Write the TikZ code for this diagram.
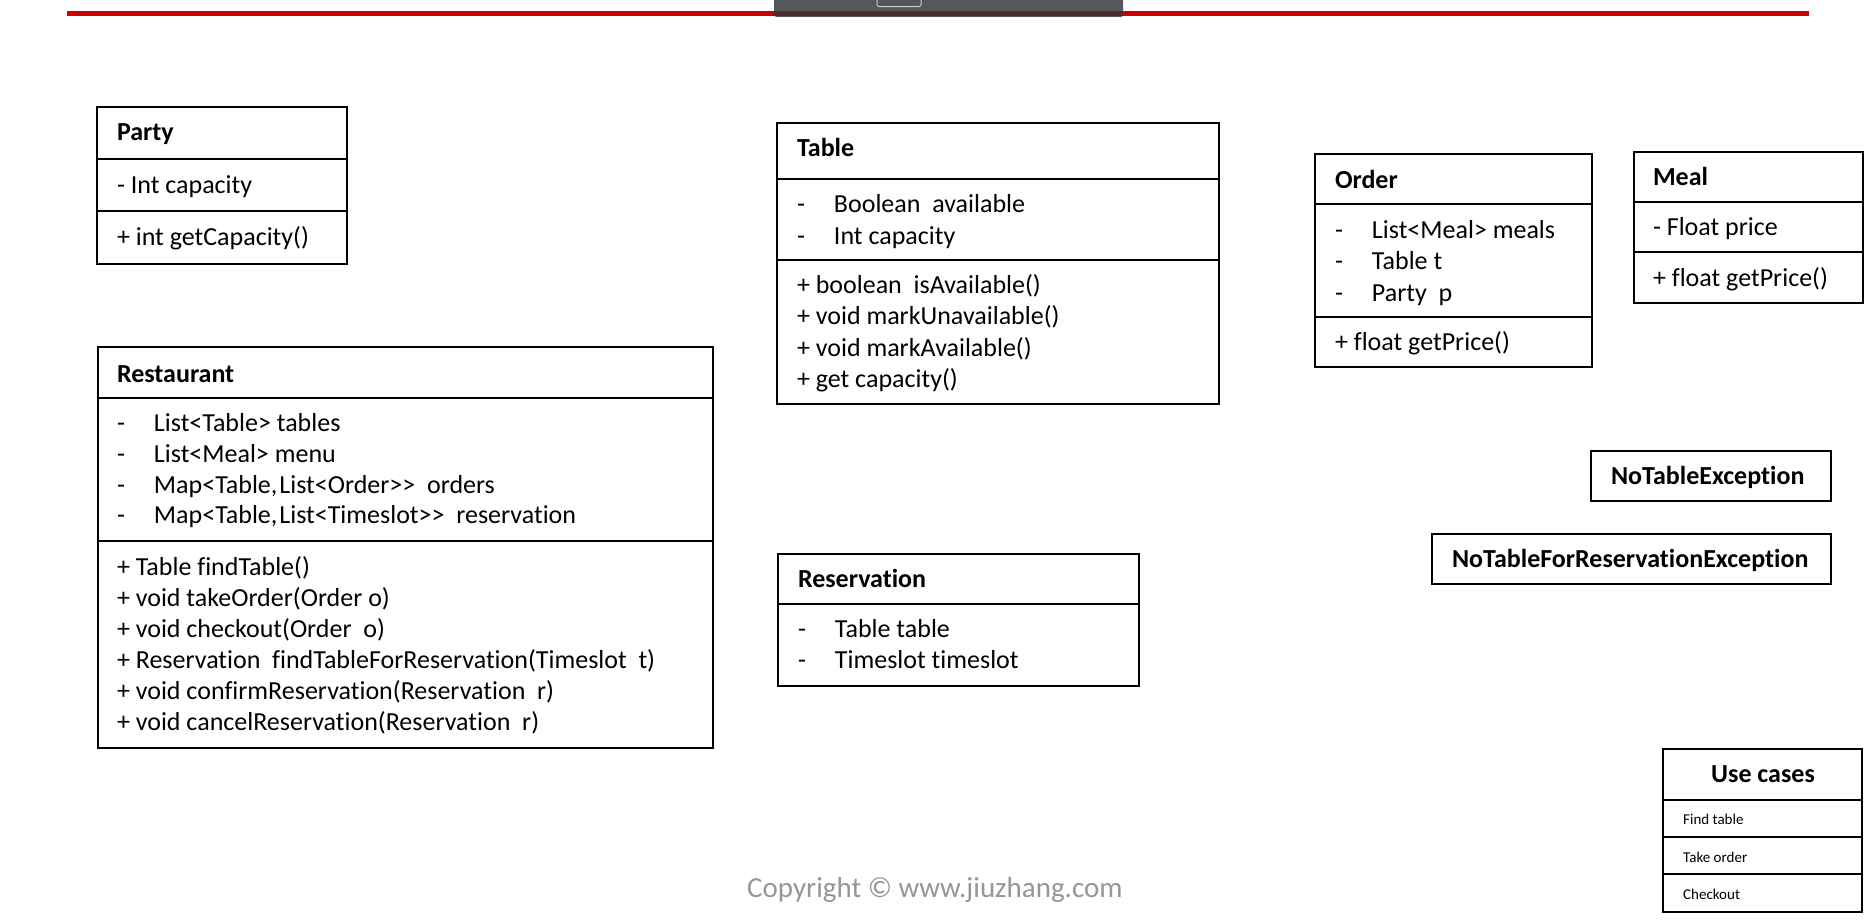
\documentclass[tikz,border=0pt]{standalone}
\usepackage{fontspec}
\setmainfont[Ligatures=NoCommon]{Carlito}
\begin{document}
\begin{tikzpicture}[x=1pt,y=-1pt,
  box/.style={draw=black,line width=2.7pt,inner sep=0pt,outer sep=0pt,anchor=north west},
  divider/.style={draw=black,line width=2.7pt},
  txt/.style={anchor=base west,inner sep=0pt,outer sep=0pt,font=\fontsize{26}{30}\selectfont},
  ttl/.style={txt,font=\fontsize{26}{30}\selectfont\bfseries},
  small/.style={anchor=base west,inner sep=0pt,font=\fontsize{15}{18}\selectfont}]
\useasboundingbox[fill=white] (0,0) rectangle (1872,919);
% header
\draw[line width=5pt,color={rgb,255:red,204;green,0;blue,0}] (67,13) -- (1809,13);
\node[fill={rgb,255:red,84;green,87;blue,91},rounded corners=2pt,minimum width=349pt,minimum height=20pt,anchor=south west,inner sep=0pt] (bar) at (774,17) {};
\fill[color={rgb,255:red,80;green,40;blue,45}] (774,10.5) rectangle (1123,15.5);
\draw[line width=1pt,color={rgb,255:red,205;green,205;blue,205},rounded corners=1.5pt] (877,-3) -- (877,6.5) -- (921,6.5) -- (921,-3);
\newcommand{\dsh}{\makebox[37pt][l]{-}}
% Party
\node[box,minimum width=250pt,minimum height=157pt] (party) at (97,107) {};
\draw[divider] (party.west |- 0,159) -- (party.east |- 0,159);
\draw[divider] (party.west |- 0,211) -- (party.east |- 0,211);
\node[ttl] (partyT) at (117,140) {Party};
\node[txt] (partyA) at (117,193) {- Int capacity};
\node[txt] (partyM) at (117,245) {+ int getCapacity()};
% Table
\node[box,minimum width=442pt,minimum height=281pt] (table) at (777,123) {};
\draw[divider] (table.west |- 0,179) -- (table.east |- 0,179);
\draw[divider] (table.west |- 0,260) -- (table.east |- 0,260);
\node[ttl] (tableT) at (797,156) {Table};
\node[txt] (tableA1) at (797,212) {\dsh Boolean\ \ available};
\node[txt] (tableA2) at (797,244) {\dsh Int capacity};
\node[txt] (tableM1) at (797,293) {+ boolean\ \ isAvailable()};
\node[txt] (tableM2) at (797,324.5) {+ void markUnavailable()};
\node[txt] (tableM3) at (797,356) {+ void markAvailable()};
\node[txt] (tableM4) at (797,387.5) {+ get capacity()};
% Order
\node[box,minimum width=277pt,minimum height=213pt] (order) at (1315,154) {};
\draw[divider] (order.west |- 0,204) -- (order.east |- 0,204);
\draw[divider] (order.west |- 0,317) -- (order.east |- 0,317);
\node[ttl] (orderT) at (1335,188) {Order};
\node[txt] (orderA1) at (1335,238) {\dsh List<Meal> meals};
\node[txt] (orderA2) at (1335,269.5) {\dsh Table t};
\node[txt] (orderA3) at (1335,301) {\dsh Party\ \ p};
\node[txt] (orderM) at (1335,350) {+ float getPrice()};
% Meal
\node[box,minimum width=229pt,minimum height=151pt] (meal) at (1634,152) {};
\draw[divider] (meal.west |- 0,202) -- (meal.east |- 0,202);
\draw[divider] (meal.west |- 0,252) -- (meal.east |- 0,252);
\node[ttl] (mealT) at (1653,185) {Meal};
\node[txt] (mealA) at (1653,235) {- Float price};
\node[txt] (mealM) at (1653,286) {+ float getPrice()};
% Restaurant
\node[box,minimum width=615pt,minimum height=401pt] (rest) at (98,347) {};
\draw[divider] (rest.west |- 0,398) -- (rest.east |- 0,398);
\draw[divider] (rest.west |- 0,541) -- (rest.east |- 0,541);
\node[ttl] (restT) at (117,382) {Restaurant};
\node[txt] (restA1) at (117,431) {\dsh List<Table> tables};
\node[txt] (restA2) at (117,462) {\dsh List<Meal> menu};
\node[txt] (restA3) at (117,493) {\dsh Map<Table,\kern2pt List<Order>{}>\ \ orders};
\node[txt] (restA4) at (117,523.5) {\dsh Map<Table,\kern2pt List<Timeslot>{}>\ \ reservation};
\node[txt] (restM1) at (117,575) {+ Table findTable()};
\node[txt] (restM2) at (117,606) {+ void takeOrder(Order o)};
\node[txt] (restM3) at (117,637) {+ void checkout(Order\ \ o)};
\node[txt] (restM4) at (117,668) {+ Reservation\ \ findTableForReservation(Timeslot\ \ t)};
\node[txt] (restM5) at (117,699) {+ void confirmReservation(Reservation\ \ r)};
\node[txt] (restM6) at (117,730) {+ void cancelReservation(Reservation\ \ r)};
% Reservation
\node[box,minimum width=361pt,minimum height=132pt] (resv) at (778,554) {};
\draw[divider] (resv.west |- 0,604) -- (resv.east |- 0,604);
\node[ttl] (resvT) at (798,587) {Reservation};
\node[txt] (resvA1) at (798,637) {\dsh Table table};
\node[txt] (resvA2) at (798,668) {\dsh Timeslot timeslot};
% Exceptions
\node[box,minimum width=240pt,minimum height=50pt] (nte) at (1591,451) {};
\node[ttl] (nteT) at (1611,484) {NoTableException};
\node[box,minimum width=399pt,minimum height=50pt] (ntfre) at (1432,534) {};
\node[ttl] (ntfreT) at (1452,567) {NoTableForReservationException};
% Use cases
\node[box,minimum width=199pt,minimum height=163pt] (uc) at (1663,749) {};
\draw[divider] (uc.west |- 0,800) -- (uc.east |- 0,800);
\draw[divider] (uc.west |- 0,837) -- (uc.east |- 0,837);
\draw[divider] (uc.west |- 0,874) -- (uc.east |- 0,874);
\node[ttl,anchor=base] (ucT) at (1763,782) {Use cases};
\node[small] (uc1) at (1683,824) {Find table};
\node[small] (uc2) at (1683,862) {Take order};
\node[small] (uc3) at (1683,899) {Checkout};
% copyright
\node[anchor=base west,inner sep=0pt,text={rgb,255:red,150;green,150;blue,150},font=\fontsize{29}{34}\selectfont] (copy) at (747,897) {Copyright © www.jiuzhang.com};
\end{tikzpicture}
\end{document}
